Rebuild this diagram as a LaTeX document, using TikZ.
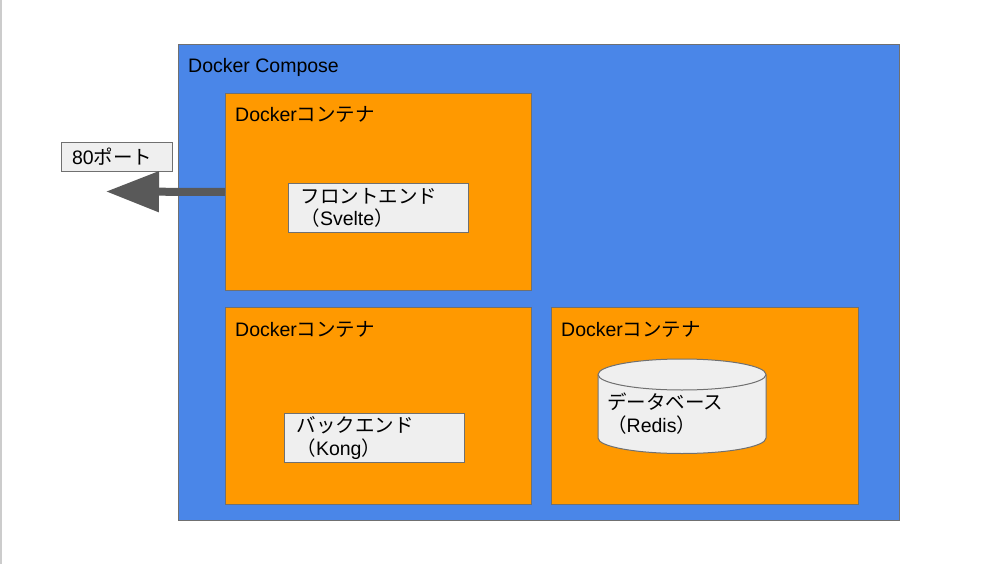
\documentclass[tikz,border=0pt]{standalone}
\usepackage{fontspec}
\setmainfont{Liberation Sans}
\newfontfamily\jpfont{Noto Sans CJK JP}
\usetikzlibrary{arrows.meta}
\definecolor{composeblue}{HTML}{4A86E8}
\definecolor{containerorange}{HTML}{FF9900}
\definecolor{boxgray}{HTML}{EFEFEF}
\definecolor{edgegray}{HTML}{707070}
\definecolor{arrowgray}{HTML}{595959}

\begin{document}
\begin{tikzpicture}[x=1pt,y=1pt,
		every node/.style={font=\fontsize{19.5pt}{22.5pt}\selectfont},
		frame/.style={draw=edgegray, line width=1pt, anchor=north west, inner sep=0pt},
		tagtext/.style={anchor=base west, inner sep=0pt},
		appbox/.style={frame, fill=boxgray, align=left, inner xsep=12pt, text width=156pt, minimum height=49pt}]
		\useasboundingbox (0,0) rectangle (1003,-564);
		\fill[white] (0,0) rectangle (1003,-564);
		\draw[gray!40, line width=1.5pt] (0.75,0) -- (0.75,-564);
		% compose and containers
		\node[frame, fill=composeblue, minimum width=721pt, minimum height=476pt] (compose) at (178,-44) {};
		\node[tagtext] (composename) at (188,-73) {Docker Compose};
		\node[frame, fill=containerorange, minimum width=306pt, minimum height=197pt] (front) at (225,-93) {};
		\node[frame, fill=containerorange, minimum width=306pt, minimum height=197pt] (back) at (225,-307) {};
		\node[frame, fill=containerorange, minimum width=307pt, minimum height=197pt] (store) at (551,-307) {};
		\node[tagtext] (frontname) at (235,-122) {Docker{\jpfont コンテナ}};
		\node[tagtext] (backname) at (235,-336) {Docker{\jpfont コンテナ}};
		\node[tagtext] (storename) at (561,-336) {Docker{\jpfont コンテナ}};
		% apps
		\node[appbox] (frontapp) at (288,-183) {{\jpfont フロントエンド}\\{\jpfont （}Svelte{\jpfont ）}};
		\node[appbox] (backapp) at (284,-413) {{\jpfont バックエンド}\\{\jpfont （}Kong{\jpfont ）}};
		\draw[draw=edgegray, fill=boxgray, line width=1pt] (598,-374.5) -- (598,-438)
			arc[start angle=180, end angle=360, x radius=84pt, y radius=15.5pt] -- (766,-374.5)
			arc[start angle=0, end angle=180, x radius=84pt, y radius=15.5pt] -- cycle;
		\draw[edgegray, line width=1pt] (598,-374.5) arc[start angle=180, end angle=360, x radius=84pt, y radius=15.5pt];
		\node[tagtext, align=left] (storeapp) at (607,-432) {{\jpfont データベース}\\{\jpfont （}Redis{\jpfont ）}};
		% port
		\node[frame, fill=boxgray, align=left, inner xsep=10.5pt, text width=90pt, minimum height=29pt] (port) at (61,-142) {80{\jpfont ポート}};
		\coordinate (porttip) at (106,-191.5);
		\draw[arrowgray, line width=8pt, -{Triangle[length=53pt, width=39pt]}] (front.west) -- (porttip);
	\end{tikzpicture}
\end{document}
